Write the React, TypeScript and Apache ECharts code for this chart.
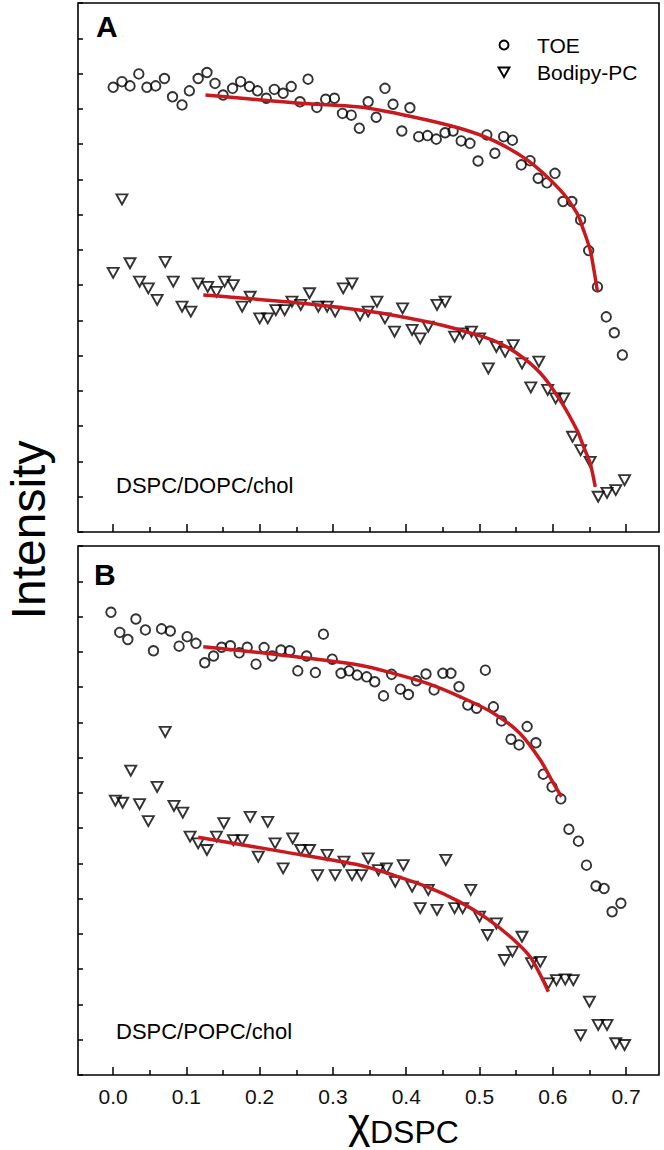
import React, { useEffect, useRef } from "react";
import * as echarts from "echarts";

// ---- axis ticks ----
const xMajorTicks = [0, 0.1, 0.2, 0.3, 0.4, 0.5, 0.6, 0.7];
const xMinorTicks = [0.05, 0.15, 0.25, 0.35, 0.45, 0.55, 0.65];

// ---- Panel A: DSPC/DOPC/chol ----
const aToe: number[][] = [
  [0.0, 12.61], [0.012, 12.77], [0.023, 12.65], [0.035, 12.99], [0.046, 12.61], [0.058, 12.65],
  [0.07, 12.86], [0.081, 12.34], [0.094, 12.11], [0.104, 12.51], [0.116, 12.86], [0.128, 13.03],
  [0.139, 12.72], [0.15, 12.39], [0.163, 12.58], [0.174, 12.77], [0.186, 12.63], [0.197, 12.51],
  [0.209, 12.3], [0.22, 12.55], [0.232, 12.44], [0.243, 12.63], [0.255, 12.2], [0.266, 12.84],
  [0.278, 12.04], [0.29, 12.27], [0.302, 12.3], [0.313, 11.87], [0.325, 11.82], [0.336, 11.45],
  [0.348, 12.2], [0.359, 11.76], [0.371, 12.58], [0.382, 12.13], [0.394, 11.37], [0.405, 12.03],
  [0.417, 11.21], [0.429, 11.24], [0.441, 11.14], [0.453, 11.32], [0.464, 11.37], [0.475, 11.09],
  [0.487, 11.02], [0.498, 10.52], [0.51, 11.26], [0.521, 10.74], [0.533, 11.21], [0.545, 11.11],
  [0.557, 10.41], [0.569, 10.53], [0.58, 10.03], [0.592, 9.9], [0.603, 10.17], [0.614, 9.37],
  [0.626, 9.37], [0.638, 8.85], [0.649, 7.98], [0.661, 6.95], [0.673, 6.1], [0.684, 5.65],
  [0.695, 5.02],
];
const aBodipy: number[][] = [
  [0.0, 7.35], [0.012, 9.43], [0.023, 7.62], [0.036, 7.1], [0.048, 6.91], [0.06, 6.58],
  [0.071, 7.66], [0.082, 7.1], [0.094, 6.39], [0.106, 6.25], [0.116, 7.05], [0.129, 6.95],
  [0.141, 6.81], [0.152, 7.1], [0.164, 7.0], [0.176, 6.39], [0.187, 6.67], [0.2, 6.06],
  [0.211, 6.06], [0.222, 6.29], [0.234, 6.29], [0.244, 6.53], [0.256, 6.44], [0.268, 6.77],
  [0.28, 6.39], [0.292, 6.39], [0.303, 6.25], [0.314, 6.91], [0.326, 7.05], [0.337, 6.15],
  [0.348, 6.25], [0.36, 6.53], [0.371, 6.06], [0.384, 5.68], [0.395, 6.34], [0.408, 5.73],
  [0.419, 5.49], [0.43, 5.82], [0.442, 6.44], [0.453, 6.53], [0.466, 5.54], [0.477, 5.63],
  [0.489, 5.68], [0.5, 5.49], [0.512, 4.64], [0.523, 5.25], [0.535, 5.11], [0.546, 5.3],
  [0.558, 4.78], [0.57, 4.1], [0.581, 4.83], [0.593, 4.03], [0.604, 3.79], [0.615, 3.79],
  [0.627, 2.7], [0.638, 2.32], [0.651, 1.99], [0.662, 1.0], [0.674, 1.11], [0.686, 1.19],
  [0.698, 1.47],
];
const aToeFit: number[][] = [
  [0.126, 12.39], [0.187, 12.28], [0.255, 12.16], [0.337, 12.05], [0.405, 11.79], [0.473, 11.45],
  [0.518, 11.11], [0.565, 10.55], [0.61, 9.7], [0.633, 9.04], [0.642, 8.56], [0.651, 8.0],
  [0.656, 7.45], [0.661, 6.81],
];
const aBodipyFit: number[][] = [
  [0.123, 6.72], [0.241, 6.52], [0.351, 6.25], [0.428, 5.96], [0.473, 5.73], [0.518, 5.44],
  [0.551, 5.07], [0.583, 4.51], [0.61, 3.74], [0.633, 2.89], [0.642, 2.42], [0.651, 1.95],
  [0.658, 1.28],
];

// ---- Panel B: DSPC/POPC/chol ----
const bToe: number[][] = [
  [-0.003, 13.12], [0.009, 12.55], [0.02, 12.35], [0.031, 12.93], [0.044, 12.62], [0.055, 12.03],
  [0.066, 12.65], [0.078, 12.59], [0.09, 12.16], [0.101, 12.43], [0.113, 12.24], [0.125, 11.69],
  [0.137, 11.88], [0.148, 12.13], [0.16, 12.17], [0.172, 11.97], [0.183, 12.13], [0.195, 11.65],
  [0.206, 12.12], [0.217, 11.88], [0.229, 12.05], [0.241, 12.03], [0.252, 11.46], [0.264, 11.88],
  [0.276, 11.41], [0.287, 12.5], [0.299, 11.79], [0.311, 11.39], [0.322, 11.46], [0.333, 11.34],
  [0.346, 11.29], [0.357, 11.15], [0.369, 10.75], [0.38, 11.36], [0.392, 10.94], [0.403, 10.79],
  [0.414, 11.18], [0.427, 11.37], [0.438, 10.92], [0.45, 11.39], [0.461, 11.39], [0.472, 11.01],
  [0.484, 10.49], [0.496, 10.4], [0.508, 11.48], [0.519, 10.44], [0.53, 10.04], [0.543, 9.52],
  [0.554, 9.36], [0.565, 9.88], [0.577, 9.42], [0.587, 8.53], [0.599, 8.17], [0.611, 7.83],
  [0.622, 6.97], [0.635, 6.63], [0.646, 5.95], [0.659, 5.36], [0.67, 5.29], [0.681, 4.63],
  [0.693, 4.87],
];
const bBodipy: number[][] = [
  [0.003, 7.78], [0.013, 7.72], [0.024, 8.63], [0.036, 7.68], [0.048, 7.2], [0.06, 8.17],
  [0.071, 9.73], [0.083, 7.63], [0.095, 7.44], [0.105, 6.76], [0.116, 6.57], [0.128, 6.38],
  [0.141, 6.76], [0.151, 7.14], [0.164, 6.66], [0.176, 6.66], [0.187, 7.32], [0.198, 6.19],
  [0.211, 7.18], [0.221, 6.57], [0.232, 5.86], [0.245, 6.71], [0.256, 6.38], [0.268, 6.38],
  [0.279, 5.67], [0.292, 6.24], [0.303, 5.67], [0.315, 6.05], [0.326, 5.67], [0.339, 5.67],
  [0.348, 6.14], [0.362, 5.81], [0.373, 5.86], [0.385, 5.48], [0.396, 5.95], [0.408, 5.34],
  [0.419, 4.73], [0.43, 5.25], [0.442, 4.68], [0.454, 6.1], [0.466, 4.73], [0.477, 4.73],
  [0.488, 5.25], [0.5, 4.49], [0.511, 3.97], [0.523, 4.3], [0.534, 3.26], [0.545, 3.5],
  [0.558, 3.92], [0.571, 3.17], [0.583, 3.21], [0.594, 2.6], [0.605, 2.69], [0.617, 2.71],
  [0.628, 2.69], [0.638, 1.13], [0.65, 2.08], [0.662, 1.42], [0.674, 1.42], [0.686, 0.9],
  [0.698, 0.85],
];
const bToeFit: number[][] = [
  [0.123, 12.14], [0.228, 11.91], [0.337, 11.62], [0.382, 11.39], [0.428, 11.11], [0.473, 10.73],
  [0.519, 10.26], [0.555, 9.69], [0.583, 8.93], [0.601, 8.27], [0.612, 7.89],
];
const bBodipyFit: number[][] = [
  [0.116, 6.74], [0.235, 6.32], [0.337, 5.95], [0.382, 5.67], [0.428, 5.34], [0.473, 4.91],
  [0.51, 4.44], [0.542, 3.92], [0.569, 3.35], [0.594, 2.36],
];

const FONT = "'Liberation Sans', Arial, Helvetica, sans-serif";
const RED = "#c8191e";
const X_MIN = -0.048;
const X_MAX = 0.745;

function xAxes(gridIndex: number, showLabels: boolean) {
  return [
    {
      type: "value",
      gridIndex,
      min: X_MIN,
      max: X_MAX,
      position: "bottom",
      axisLine: { show: false, onZero: false },
      splitLine: { show: false },
      axisTick: {
        show: true,
        inside: true,
        length: 8,
        customValues: xMajorTicks,
        lineStyle: { color: "#000", width: 1.5 },
      },
      axisLabel: {
        show: showLabels,
        customValues: xMajorTicks,
        formatter: (v: number) => v.toFixed(1),
        fontSize: 21,
        fontFamily: FONT,
        color: "#111",
        margin: 11,
      },
    },
    {
      type: "value",
      gridIndex,
      min: X_MIN,
      max: X_MAX,
      position: "bottom",
      axisLine: { show: false, onZero: false },
      splitLine: { show: false },
      axisTick: {
        show: true,
        inside: true,
        length: 5,
        customValues: xMinorTicks,
        lineStyle: { color: "#000", width: 1.5 },
      },
      axisLabel: { show: false },
    },
  ];
}

function yAxis(gridIndex: number) {
  return {
    type: "value",
    gridIndex,
    min: 0,
    max: 15,
    interval: 1,
    position: "left",
    axisLine: { show: false, onZero: false },
    splitLine: { show: false },
    axisTick: { show: true, inside: true, length: 5, lineStyle: { color: "#000", width: 1.5 } },
    axisLabel: { show: false },
  };
}

function scatter(name: string, data: number[][], xi: number, yi: number, tri: boolean) {
  return {
    name,
    type: "scatter",
    xAxisIndex: xi,
    yAxisIndex: yi,
    data,
    symbol: tri ? "triangle" : "circle",
    symbolRotate: tri ? 180 : 0,
    symbolSize: tri ? [11, 10] : 9.5,
    itemStyle: { color: "rgba(255,255,255,0)", borderColor: "#000", borderWidth: 1.9 },
    z: 3,
  };
}

function fit(name: string, data: number[][], xi: number, yi: number) {
  return {
    name,
    type: "line",
    xAxisIndex: xi,
    yAxisIndex: yi,
    data,
    smooth: 0.3,
    showSymbol: false,
    symbol: "none",
    lineStyle: { color: RED, width: 3.5 },
    z: 5,
  };
}

export default function App() {
  const ref = useRef<HTMLDivElement>(null);
  useEffect(() => {
    if (!ref.current) return;
    const chart = echarts.init(ref.current, undefined, { renderer: "svg" });
    const textStyle = (text: string, size: number, extra: any = {}) => ({
      text,
      fontSize: size,
      fontFamily: FONT,
      fill: "#000",
      ...extra,
    });
    chart.setOption({
      animation: false,
      backgroundColor: "#fff",
      grid: [
        { left: 78, top: 3, width: 581, height: 529, show: true, borderColor: "#000", borderWidth: 1.6, backgroundColor: "transparent" },
        { left: 78, top: 546, width: 581, height: 529, show: true, borderColor: "#000", borderWidth: 1.6, backgroundColor: "transparent" },
      ],
      xAxis: [...xAxes(0, false), ...xAxes(1, true)],
      yAxis: [yAxis(0), yAxis(1)],
      series: [
        scatter("TOE", aToe, 0, 0, false),
        scatter("Bodipy-PC", aBodipy, 0, 0, true),
        fit("TOE fit (A)", aToeFit, 0, 0),
        fit("Bodipy-PC fit (A)", aBodipyFit, 0, 0),
        scatter("TOE", bToe, 2, 1, false),
        scatter("Bodipy-PC", bBodipy, 2, 1, true),
        fit("TOE fit (B)", bToeFit, 2, 1),
        fit("Bodipy-PC fit (B)", bBodipyFit, 2, 1),
      ],
      graphic: [
        { type: "text", x: 96, y: 26, style: textStyle("A", 30, { fontWeight: "bold", verticalAlign: "middle" }) },
        { type: "text", x: 94, y: 574, style: textStyle("B", 30, { fontWeight: "bold", verticalAlign: "middle" }) },
        { type: "text", x: 116, y: 485, style: textStyle("DSPC/DOPC/chol", 22, { verticalAlign: "middle" }) },
        { type: "text", x: 116, y: 1031, style: textStyle("DSPC/POPC/chol", 22, { verticalAlign: "middle" }) },
        // legend
        { type: "circle", shape: { cx: 504, cy: 45, r: 4.5 }, style: { fill: "none", stroke: "#000", lineWidth: 1.9 } },
        { type: "polygon", shape: { points: [[498.5, 67.5], [509.5, 67.5], [504, 77]] }, style: { fill: "none", stroke: "#000", lineWidth: 1.9 } },
        { type: "text", x: 537, y: 45, style: textStyle("TOE", 21, { verticalAlign: "middle" }) },
        { type: "text", x: 537, y: 72, style: textStyle("Bodipy-PC", 21, { verticalAlign: "middle" }) },
        // axis titles
        { type: "text", x: 28, y: 530, rotation: Math.PI / 2, style: textStyle("Intensity", 48, { align: "center", verticalAlign: "middle", lineHeight: 48 }) },
        { type: "text", x: 348, y: 1123, style: textStyle("χ", 43, { verticalAlign: "middle" }) },
        { type: "text", x: 370, y: 1132, style: textStyle("DSPC", 32, { verticalAlign: "middle" }) },
      ],
    });
    return () => chart.dispose();
  }, []);
  return (
    <div
      ref={ref}
      style={{ position: "absolute", left: 0, top: 0, width: 664, height: 1150, background: "#fff" }}
    />
  );
}
